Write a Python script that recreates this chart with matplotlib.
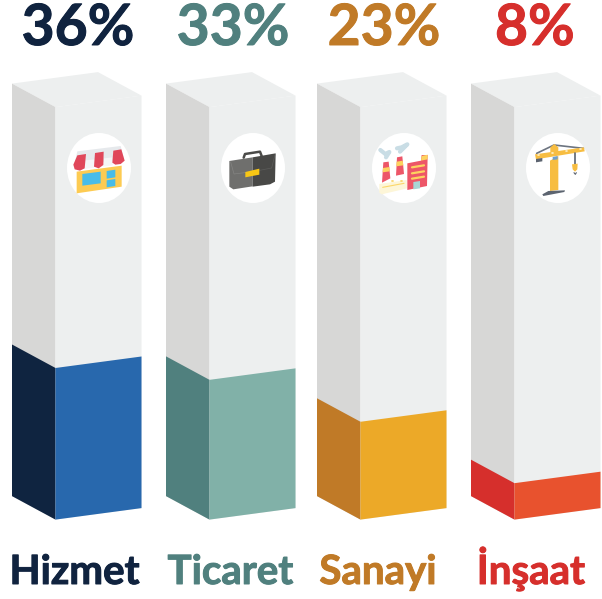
import matplotlib
matplotlib.use('Agg')
import matplotlib.pyplot as plt
import matplotlib.patheffects as pe
from matplotlib.patches import Polygon, Ellipse

# -------------------------------
# Data
# -------------------------------
categories = ['Hizmet', 'Ticaret', 'Sanayi', 'İnşaat']
percents = [36, 33, 23, 8]
# fill level of each column as drawn, in percent
fill_levels = [35.8, 33.0, 23.1, 8.6]
side_colors = ['#0f2440', '#50807e', '#c07a27', '#d62f2c']
front_colors = ['#2868ad', '#81b1a8', '#eca928', '#e8522e']
text_colors = ['#10233f', '#50807e', '#c07a27', '#d62f2c']

# -------------------------------
# Column shape (pixels)
# -------------------------------
left_edges = [12, 166, 317, 471]
side_w = 43.5
front_w = 86
base_y = 519.6
px_per_pct = 4.235
col_height = 412.5
drop_side = 23.5   # side face runs down to the front corner
rise_front = 11.5  # front face runs up to the right
text_x = [74.5, 230.5, 378, 531]
pct_x = [78, 233, 384, 535]

fig = plt.figure(figsize=(6.02, 5.99), dpi=100)
ax = fig.add_axes([0, 0, 1, 1])
ax.set_xlim(0, 602)
ax.set_ylim(599, 0)
ax.axis('off')


def column(x0, level, side_c, front_c):
    xc = x0 + side_w
    xr = xc + front_w
    top = base_y - col_height
    # grey shell
    ax.add_patch(Polygon([(x0, top - drop_side), (xc, top), (xr, top - rise_front),
                          (xr - side_w, top - rise_front - drop_side)], fc='#edefef', ec='none'))
    ax.add_patch(Polygon([(x0, top - drop_side), (xc, top), (xc, base_y), (x0, base_y - drop_side)],
                         fc='#d7d7d6', ec='none'))
    ax.add_patch(Polygon([(xc, top), (xr, top - rise_front), (xr, base_y - rise_front), (xc, base_y)],
                         fc='#edefef', ec='none'))
    # filled part
    h = level * px_per_pct
    ax.add_patch(Polygon([(x0, base_y - drop_side - h), (xc, base_y - h), (xc, base_y), (x0, base_y - drop_side)],
                         fc=side_c, ec='none'))
    ax.add_patch(Polygon([(xc, base_y - h), (xr, base_y - rise_front - h), (xr, base_y - rise_front), (xc, base_y)],
                         fc=front_c, ec='none'))


def shape(x0, pts, color, z=5):
    # icon outlines are noted at 3x, measured from the crop corner x0, y=60
    ax.add_patch(Polygon([(x0 + a / 3, 60 + b / 3) for a, b in pts], fc=color, ec='none', zorder=z))


def stroke(x0, pts, color, lw=1.5, z=5):
    ax.plot([x0 + a / 3 for a, b in pts], [60 + b / 3 for a, b in pts], color=color, lw=lw,
            solid_capstyle='round', zorder=z)


def shop(x0):
    shape(x0, [(232, 274), (362, 258), (372, 298), (222, 318)], '#e6e9ec')
    shape(x0, [(230, 335), (365, 317), (365, 380), (230, 400)], '#fdcb52')
    shape(x0, [(247, 342), (302, 335), (302, 370), (247, 377)], '#48bce8')
    shape(x0, [(320, 333), (346, 329), (346, 352), (320, 356)], '#48bce8')
    shape(x0, [(320, 361), (346, 357), (346, 378), (320, 382)], '#48bce8')
    shape(x0, [(252, 327), (282, 323), (285, 298), (255, 301)], '#f5f6f7')
    shape(x0, [(308, 320), (338, 316), (338, 292), (312, 295)], '#f5f6f7')
    shape(x0, [(232, 286), (258, 282), (254, 325), (240, 332), (224, 328), (220, 314)], '#e0475a')
    shape(x0, [(285, 279), (311, 275), (310, 315), (296, 325), (282, 320)], '#e0475a')
    shape(x0, [(340, 272), (364, 268), (374, 302), (362, 312), (346, 314), (337, 308)], '#e0475a')


def briefcase(x0):
    stroke(x0, [(731, 293), (735, 282), (780, 275), (785, 288)], '#4b4b49', lw=1.8)
    shape(x0, [(688, 303), (758, 292), (758, 379), (700, 388), (688, 380)], '#6f6f6d')
    shape(x0, [(758, 292), (827, 280), (825, 365), (810, 373), (758, 380)], '#484846')
    stroke(x0, [(692, 306), (702, 342), (758, 335)], '#848482', lw=0.5, z=6)
    stroke(x0, [(758, 335), (815, 324), (825, 284)], '#5c5c5a', lw=0.5, z=6)
    shape(x0, [(736, 336), (778, 326), (778, 344), (736, 352)], '#f8c715', z=7)


def factory(x0):
    shape(x0, [(238, 372), (320, 360), (322, 385), (245, 403), (238, 398)], '#fdf6d8')
    shape(x0, [(250, 307), (266, 305), (271, 355), (246, 368)], '#ed5668')
    shape(x0, [(291, 292), (307, 289), (312, 342), (288, 347)], '#ed5668')
    shape(x0, [(249, 324), (268, 321), (269, 334), (248, 337)], '#fdd35f', z=6)
    shape(x0, [(290, 305), (308, 302), (310, 316), (289, 319)], '#fdd35f', z=6)
    shape(x0, [(322, 310), (363, 302), (365, 285), (383, 285), (381, 378), (322, 390)], '#ed5668')
    shape(x0, [(363, 302), (365, 288), (383, 284), (383, 298)], '#fdd35f', z=6)
    shape(x0, [(340, 366), (360, 363), (360, 385), (340, 388)], '#a8d5d6', z=6)
    for y in (322, 340, 356):
        stroke(x0, [(336, y), (372, y - 6)], '#fdd35f', lw=1.6, z=6)
    stroke(x0, [(248, 382), (312, 370)], '#fbd76a', lw=0.8, z=6)
    for a in (277, 291, 304):
        stroke(x0, [(a, 364), (a + 1, 364)], '#fbd76a', lw=1.3, z=6)
    stroke(x0, [(241, 270), (256, 282), (268, 276), (258, 292)], '#c9dde5', lw=3)
    stroke(x0, [(291, 265), (305, 262), (322, 253), (300, 275)], '#c9dde5', lw=3)


def crane(x0):
    stroke(x0, [(710, 280), (762, 255), (850, 265)], '#6c7480', lw=1.2)
    shape(x0, [(705, 283), (852, 262), (854, 274), (708, 298)], '#f7bd41')
    shape(x0, [(751, 262), (763, 252), (775, 262), (775, 278), (751, 282)], '#f7bd41', z=6)
    shape(x0, [(708, 297), (727, 294), (727, 304), (708, 307)], '#5c6470')
    shape(x0, [(750, 302), (775, 288), (775, 390), (750, 393)], '#f7bd41')
    shape(x0, [(758, 291), (773, 288), (773, 298), (758, 300)], '#6e9fcb', z=6)
    for b in range(310, 390, 14):
        stroke(x0, [(762, b), (763, b)], '#fff1c9', lw=1.5, z=6)
    for a in range(715, 850, 14):
        stroke(x0, [(a, 285 - (a - 715) * 0.14), (a + 1, 285 - (a - 715) * 0.14)], '#fff1c9', lw=1.2, z=7)
    stroke(x0, [(826, 280), (826, 313)], '#5c6470', lw=1.2)
    shape(x0, [(816, 313), (833, 311), (832, 328), (825, 335), (818, 328)], '#f7bd41')
    stroke(x0, [(822, 338), (826, 343), (829, 338)], '#5c6470', lw=0.8)
    shape(x0, [(727, 403), (745, 393), (795, 391), (793, 396), (730, 408)], '#5c6470')


# -------------------------------
# Draw columns, icons and text
# -------------------------------
for i in range(len(categories)):
    column(left_edges[i], fill_levels[i], side_colors[i], front_colors[i])
    cx = left_edges[i] + side_w + front_w / 2 + 0.5
    ax.add_patch(Ellipse((cx, 168), 64, 70, fc='white', ec='none', zorder=4))
    # Lato bold is a little thin next to the original lettering
    thick = [pe.withStroke(linewidth=0.7, foreground=text_colors[i])]
    ax.text(pct_x[i], 45, str(percents[i]) + '%', color=text_colors[i], fontsize=41, fontweight='bold',
            family='Lato', ha='center', va='baseline', path_effects=thick)
    ax.text(text_x[i], 584, categories[i], color=text_colors[i], fontsize=29, fontweight='bold',
            family='Lato', ha='center', va='baseline', path_effects=thick)

shop(0)
briefcase(0)
factory(300)
crane(300)

plt.savefig('out.png', dpi=100)
